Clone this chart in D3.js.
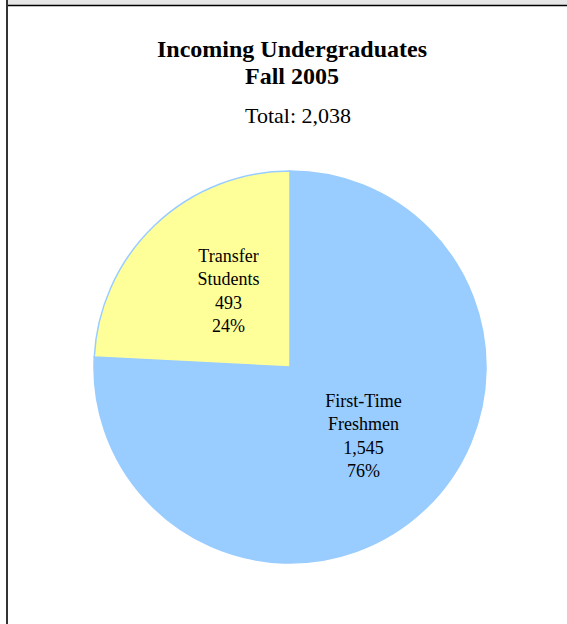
<!DOCTYPE html>
<html><head><meta charset="utf-8">
<script src="https://cdn.jsdelivr.net/npm/d3@7"></script>
<style>html,body{margin:0;padding:0;background:#fff;}svg{display:block;}</style>
</head><body>
<script>
const categories = ["First-Time Freshmen", "Transfer Students"];
const labelLines = [["First-Time", "Freshmen"], ["Transfer", "Students"]];
const values = [1545, 493];
const colors = ["#99CCFF", "#FFFF99"];
const titleLines = ["Incoming Undergraduates", "Fall 2005"];
const subtitle = "Total: 2,038";

const W = 567, H = 624;
const svg = d3.select("body").append("svg").attr("width", W).attr("height", H);

// frame
svg.append("rect").attr("x", 7).attr("y", 0).attr("width", W - 7).attr("height", 5).attr("fill", "#e6e6e6");
svg.append("line").attr("x1", 7).attr("x2", W).attr("y1", 5.5).attr("y2", 5.5).attr("stroke", "#000").attr("stroke-width", 1.5);
svg.append("line").attr("x1", 7).attr("x2", 7).attr("y1", 0).attr("y2", H).attr("stroke", "#333").attr("stroke-width", 2);

const serif = "'Liberation Serif','Times New Roman',serif";
svg.append("text").attr("x", 292).attr("y", 57).attr("text-anchor", "middle")
  .attr("font-family", serif).attr("font-weight", "bold").attr("font-size", 24).text(titleLines[0]);
svg.append("text").attr("x", 292).attr("y", 84).attr("text-anchor", "middle")
  .attr("font-family", serif).attr("font-weight", "bold").attr("font-size", 24).text(titleLines[1]);
svg.append("text").attr("x", 298).attr("y", 123).attr("text-anchor", "middle")
  .attr("font-family", serif).attr("font-size", 22).text(subtitle);

const cx = 290, cy = 367, r = 196;
const total = d3.sum(values);
const pie = d3.pie().sort(null).value(d => d)(values);
const arc = d3.arc().innerRadius(0).outerRadius(r);
const labelArc = d3.arc().innerRadius(r * 0.5).outerRadius(r * 0.5);
const g = svg.append("g").attr("transform", `translate(${cx},${cy})`);

g.selectAll("path").data(pie).join("path")
  .attr("d", arc).attr("fill", (d, i) => colors[i])
  .attr("stroke", "#99CCFF").attr("stroke-width", 1.5);

const nudge = [[6, 0], [6, -3]];
const fmt = d3.format(",");
pie.forEach((d, i) => {
  const [x0, y0] = labelArc.centroid(d);
  const x = x0 + nudge[i][0], y = y0 + nudge[i][1];
  const lines = [...labelLines[i], fmt(values[i]), Math.round(values[i] / total * 100) + "%"];
  const t = g.append("text").attr("text-anchor", "middle").attr("font-family", serif)
    .attr("font-size", 18).attr("fill", "#000");
  lines.forEach((s, k) => {
    t.append("tspan").attr("x", x).attr("y", y - 31 + k * 23.3).text(s);
  });
});
</script>
</body></html>
